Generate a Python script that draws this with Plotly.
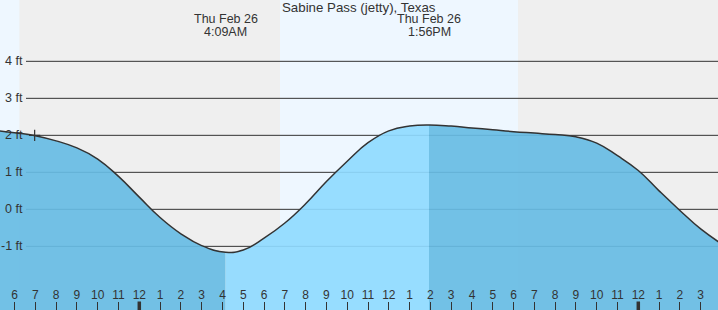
import plotly.graph_objects as go
import pandas as pd

# ---- data ----
times = [
    "2026-02-25 17:00", "2026-02-25 18:00", "2026-02-25 19:00", "2026-02-25 20:00",
    "2026-02-25 21:00", "2026-02-25 22:00", "2026-02-25 23:00", "2026-02-26 00:00",
    "2026-02-26 01:00", "2026-02-26 02:00", "2026-02-26 03:00", "2026-02-26 04:09",
    "2026-02-26 05:00", "2026-02-26 06:00", "2026-02-26 07:00", "2026-02-26 08:00",
    "2026-02-26 09:00", "2026-02-26 10:00", "2026-02-26 11:00", "2026-02-26 12:00",
    "2026-02-26 13:00", "2026-02-26 13:56", "2026-02-26 15:00", "2026-02-26 16:00",
    "2026-02-26 17:00", "2026-02-26 18:00", "2026-02-26 19:00", "2026-02-26 20:00",
    "2026-02-26 21:00", "2026-02-26 22:00", "2026-02-26 23:00", "2026-02-27 00:00",
    "2026-02-27 01:00", "2026-02-27 02:00", "2026-02-27 03:00", "2026-02-27 04:00",
]
heights = [
    2.14, 2.07, 1.99, 1.85,
    1.66, 1.36, 0.89, 0.33,
    -0.22, -0.66, -0.98, -1.16,
    -1.10, -0.78, -0.37, 0.15,
    0.75, 1.30, 1.80, 2.12,
    2.25, 2.28, 2.25, 2.20,
    2.15, 2.10, 2.06, 2.02,
    1.96, 1.79, 1.45, 1.05,
    0.50, -0.03, -0.53, -0.93,
]
low_time, low_label = "2026-02-26 04:09", "4:09AM"
high_time, high_label = "2026-02-26 13:56", "1:56PM"
event_day = "Thu Feb 26"
title_text = "Sabine Pass (jetty), Texas"

day_starts = ["2026-02-25 17:00", "2026-02-26 06:46"]
day_ends = ["2026-02-25 18:14", "2026-02-26 18:13"]

now_time, now_height = "2026-02-25 18:58", 2.0

ytick_vals = [-1, 0, 1, 2, 3, 4]
ytick_text = ["-1 ft", "0 ft", "1 ft", "2 ft", "3 ft", "4 ft"]

hour_labels = ["6", "7", "8", "9", "10", "11",
               "12", "1", "2", "3", "4", "5", "6", "7", "8", "9", "10", "11",
               "12", "1", "2", "3", "4", "5", "6", "7", "8", "9", "10", "11",
               "12", "1", "2", "3"]
first_hour = "2026-02-25 18:00"
midnights = ["2026-02-26 00:00", "2026-02-27 00:00"]

x_range = ["2026-02-25 17:18", "2026-02-27 03:50"]
y_range = [-2.72, 5.657]

# ---- styles ----
FONT = "Liberation Sans, Arial, sans-serif"
TXT = "#333333"
NIGHT = "#efefef"
DAY = "#eef7ff"
DARK_FILL = "rgba(103,188,228,0.92)"
LIGHT_FILL = "rgba(143,218,255,0.92)"
FILL_BASE = -3.0
SMOOTH = 1.3

W, H = 718, 310

t = pd.to_datetime(pd.Series(times))
h = pd.Series(heights)
lo = pd.Timestamp(low_time)
hi = pd.Timestamp(high_time)

fig = go.Figure()

segments = [
    (t <= lo, DARK_FILL),
    ((t >= lo) & (t <= hi), LIGHT_FILL),
    (t >= hi, DARK_FILL),
]
for mask, col in segments:
    st = t[mask]
    sh = h[mask]
    fig.add_trace(go.Scatter(x=st, y=[FILL_BASE] * len(st), mode="lines",
                             line=dict(width=0), hoverinfo="skip"))
    fig.add_trace(go.Scatter(x=st, y=sh, mode="lines", fill="tonexty",
                             fillcolor=col,
                             line=dict(width=0, shape="spline", smoothing=SMOOTH),
                             hoverinfo="skip"))

fig.add_trace(go.Scatter(x=t, y=h, mode="lines",
                         line=dict(color="#333333", width=1.5, shape="spline",
                                   smoothing=SMOOTH)))

fig.add_trace(go.Scatter(x=[now_time], y=[now_height], mode="markers",
                         marker=dict(symbol="cross-thin", size=8,
                                     line=dict(color="#333333", width=1.2))))

shapes = []
for s, e in zip(day_starts, day_ends):
    shapes.append(dict(type="rect", xref="x", yref="paper", x0=s, x1=e, y0=0, y1=1,
                       fillcolor=DAY, line=dict(width=0), layer="below"))
for v in ytick_vals:
    shapes.append(dict(type="line", xref="paper", yref="y", x0=26 / W, x1=1, y0=v, y1=v,
                       line=dict(color="#333333", width=1), layer="below"))
for m in midnights:
    shapes.append(dict(type="line", xref="x", yref="paper", x0=m, x1=m, y0=0, y1=8.5 / H,
                       line=dict(color="#333333", width=3.5), layer="above"))

annotations = []
for v, txt in zip(ytick_vals, ytick_text):
    annotations.append(dict(x=24.5 / W, xref="paper", xanchor="right", y=v, yref="y",
                            yanchor="middle", text=txt, showarrow=False,
                            font=dict(family=FONT, size=12.5, color=TXT)))
annotations.append(dict(x=0.5, xref="paper", y=1 - 8 / H, yref="paper", yanchor="middle",
                        text=title_text, showarrow=False, borderpad=0,
                        font=dict(family=FONT, size=13.3, color=TXT)))
for tm, lab in [(low_time, low_label), (high_time, high_label)]:
    annotations.append(dict(x=tm, xref="x", y=1 - 19.5 / H, yref="paper", yanchor="middle",
                            text=event_day, showarrow=False, borderpad=0,
                            font=dict(family=FONT, size=12.5, color=TXT)))
    annotations.append(dict(x=tm, xref="x", y=1 - 32 / H, yref="paper", yanchor="middle",
                            text=lab, showarrow=False, borderpad=0,
                            font=dict(family=FONT, size=12.5, color=TXT)))

tickvals = pd.date_range(first_hour, periods=len(hour_labels), freq="h")

fig.update_layout(
    width=W, height=H,
    margin=dict(l=0, r=0, t=0, b=0),
    paper_bgcolor=NIGHT, plot_bgcolor=NIGHT,
    showlegend=False,
    shapes=shapes, annotations=annotations,
    xaxis=dict(type="date", range=x_range, tickvals=tickvals, ticktext=hour_labels,
               ticks="inside", ticklen=8, tickwidth=1, tickcolor="#333333",
               ticklabelposition="inside", showgrid=False, zeroline=False,
               showline=False, layer="above traces",
               tickfont=dict(family=FONT, size=12, color=TXT), fixedrange=True),
    yaxis=dict(range=y_range, showgrid=False, zeroline=False, showticklabels=False,
               showline=False, ticks="", fixedrange=True),
)

fig.write_html("out.html")
